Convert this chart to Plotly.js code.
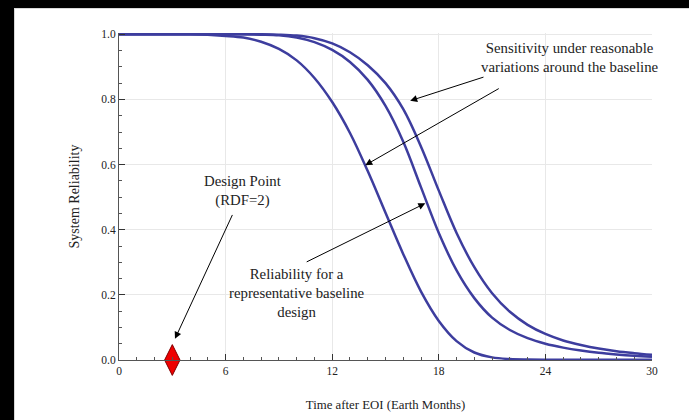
<!DOCTYPE html>
<html><head><meta charset="utf-8">
<script src="https://cdn.plot.ly/plotly-3.0.1.min.js"></script>
<style>
html,body{margin:0;padding:0;background:#000;width:689px;height:420px;overflow:hidden;}
#frame{position:absolute;left:14px;top:8px;width:675px;height:412px;background:#fff;border-left:1px solid #d8d8d8;border-top:1px solid #d8d8d8;box-sizing:border-box;}
#chart{position:absolute;left:15px;top:9px;width:674px;height:411px;}
#glyph{position:absolute;left:-5px;top:215px;color:#fff;font-family:'Liberation Serif',serif;font-size:15px;}
</style></head><body>
<span id="glyph">)</span>
<div id="frame"></div>
<div id="chart"></div>
<script>
const months = [0,2,4,6,7,8,9,10,11,12,13,14,15,16,17,18,19,20,21,22,23,24,25,26,27,28,29,30];
const variationLow = [1,1,1,0.995,0.99,0.977,0.955,0.92,0.866,0.792,0.697,0.58,0.452,0.325,0.21,0.12,0.058,0.023,0.008,0.003,0.0015,0.001,0.001,0.001,0.001,0.001,0.001,0.001];
const baseline = [1,1,1,1,1,0.999,0.997,0.99,0.976,0.952,0.915,0.86,0.78,0.67,0.53,0.39,0.275,0.19,0.13,0.092,0.067,0.05,0.038,0.029,0.022,0.017,0.013,0.01];
const variationHigh = [1,1,1,1,1,1,0.999,0.996,0.988,0.972,0.945,0.905,0.85,0.77,0.655,0.52,0.39,0.285,0.205,0.148,0.108,0.08,0.06,0.046,0.035,0.027,0.021,0.016];
const designX = [3];
const designY = [0];
const xTicks = [0,6,12,18,24,30];
const yTicks = [0,0.2,0.4,0.6,0.8,1.0];
const yTickText = ['0.0','0.2','0.4','0.6','0.8','1.0'];

const lineStyle = {color:'#3d3d9e', width:2.5, shape:'spline', smoothing:1};
const serif = '"Liberation Serif", "Times New Roman", serif';
const noteFont = {family:serif, size:14.8, color:'#222'};
const traces = [
  {x:months, y:variationLow, mode:'lines', line:lineStyle, hoverinfo:'skip'},
  {x:months, y:baseline, mode:'lines', line:lineStyle, hoverinfo:'skip'},
  {x:months, y:variationHigh, mode:'lines', line:lineStyle, hoverinfo:'skip'},
  {x:designX, y:designY, mode:'markers', cliponaxis:false,
   marker:{symbol:'diamond-tall', size:22, color:'#ee0000', line:{color:'#800000', width:1}}, hoverinfo:'skip'}
];
const arrow = {showarrow:true, arrowhead:2, arrowsize:1.4, arrowwidth:1, arrowcolor:'#000', axref:'x', ayref:'y', text:''};
const layout = {
  width:674, height:411,
  margin:{l:104, r:37, t:24, b:60},
  paper_bgcolor:'#fff', plot_bgcolor:'#fff',
  showlegend:false,
  font:{family:serif, color:'#222'},
  xaxis:{range:[0,30], tickvals:xTicks, ticktext:xTicks.map(String), ticks:'inside', ticklen:6, tickcolor:'#333',
    showline:true, linecolor:'#555', linewidth:1, showgrid:true, gridcolor:'#e8e8e8', zeroline:false,
    tickfont:{family:serif, size:11.5, color:'#222'},
    minor:{ticks:'inside', dtick:1, ticklen:3, tickcolor:'#555', showgrid:false},
    title:{text:'Time after EOI (Earth Months)', font:{family:serif, size:12.8, color:'#222'}, standoff:24}},
  yaxis:{range:[0,1.004], tickvals:yTicks, ticktext:yTickText, ticks:'inside', ticklen:6, tickcolor:'#333',
    showline:true, linecolor:'#555', linewidth:1, showgrid:true, gridcolor:'#e8e8e8', zeroline:false,
    tickfont:{family:serif, size:11.5, color:'#222'},
    minor:{ticks:'inside', dtick:0.05, ticklen:3, tickcolor:'#555', showgrid:false},
    title:{text:'System Reliability', font:{family:serif, size:14, color:'#222'}, standoff:18}},
  annotations:[
    {x:7.0, y:0.52, xref:'x', yref:'y', showarrow:false, text:'Design Point<br>(RDF=2)', font:noteFont},
    {x:25.4, y:0.93, xref:'x', yref:'y', showarrow:false, text:'Sensitivity under reasonable<br>variations around the baseline', font:noteFont},
    {x:10.0, y:0.205, xref:'x', yref:'y', showarrow:false, text:'Reliability for a<br>representative baseline<br>design', font:noteFont},
    Object.assign({x:3.15, y:0.065, ax:6.42, ay:0.45}, arrow),
    Object.assign({x:16.39, y:0.796, ax:20.6, ay:0.87}, arrow),
    Object.assign({x:13.86, y:0.598, ax:21.46, ay:0.836}, arrow),
    Object.assign({x:17.24, y:0.481, ax:10.48, ay:0.299}, arrow)
  ]
};
Plotly.newPlot('chart', traces, layout, {displayModeBar:false, staticPlot:true});
</script></body></html>
